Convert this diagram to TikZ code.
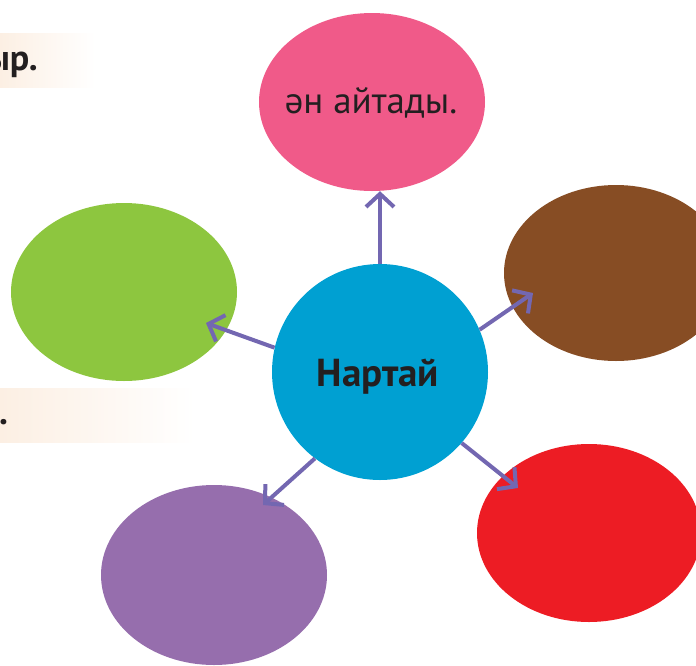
\documentclass[tikz,border=0pt]{standalone}
\usepackage{fontspec}
\setmainfont{PT Sans}
\usetikzlibrary{shapes.geometric}
\usetikzlibrary{arrows.meta}

\definecolor{txt}{HTML}{231F20}
\definecolor{pinkblob}{HTML}{F05A89}
\definecolor{midblob}{HTML}{00A0D2}
\definecolor{brownblob}{HTML}{874D24}
\definecolor{greenblob}{HTML}{8DC63F}
\definecolor{violetblob}{HTML}{966EAD}
\definecolor{redblob}{HTML}{ED1C24}
\definecolor{arrowc}{HTML}{7367B1}
\definecolor{cream}{HTML}{FCEFE3}

\begin{document}
\begin{tikzpicture}[x=1pt,y=-1pt]
			\tikzstyle{every node}=[inner sep=0pt,text=txt]
			\tikzstyle{blob}=[ellipse,minimum width=226pt,minimum height=178pt]
			\tikzstyle{every edge}=[line width=4pt,draw=arrowc,-{Straight Barb[length=13pt,width=28pt]}]
			\useasboundingbox (0,0) rectangle (696,665);
			\clip (0,0) rectangle (696,665);
			
			% strips of the text page behind
			\shade[left color=cream,right color=white] (0,33) rectangle (95,87);
			\shade[left color=cream,right color=white] (0,388) rectangle (195,442);
			\node (cut1) [anchor=base east] at (38,70) {\fontsize{36}{40}\selectfont\bfseries ыр.};
			\node (cut2) [anchor=base] at (3.5,424) {\fontsize{36}{40}\selectfont\bfseries .};
			
			\node (mid) [circle,fill=midblob,minimum size=216pt] at (380,372) {};
			\node (up)  [blob,fill=pinkblob]   at (372,102) {};
			\node (rt)  [blob,fill=brownblob,minimum width=224pt,minimum height=176pt] at (616,273) {};
			\node (dr)  [blob,fill=redblob,minimum width=224pt] at (589,533) {};
			\node (dl)  [blob,fill=violetblob,minimum height=180pt] at (214,575) {};
			\node (lt)  [blob,fill=greenblob]  at (124,292) {};
			
			\node (uptext)  [anchor=base] at (371,113) {\fontsize{37}{40}\selectfont ән айтады.};
			\node (midtext) [anchor=base] at (378,386) {\fontsize{39}{42}\selectfont\bfseries Нартай};
			
			\draw (mid.north) edge (mid.north |- up.south);
			\draw (mid.167) edge ([shift={(82,31)}]lt.center);
			\draw (mid.23) edge ([shift={(-83,20)}]rt.center);
			\draw (mid.233) edge ([shift={(49,-70)}]dl.center);
			\draw (mid.-41) edge ([shift={(-71,-45)}]dr.center);
\end{tikzpicture}
\end{document}
